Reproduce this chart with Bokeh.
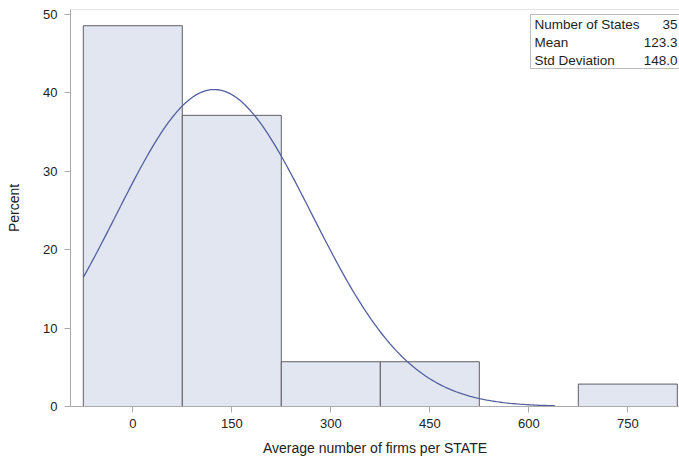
import math
from bokeh.plotting import figure
from bokeh.models import Range1d, FixedTicker, Span, ColumnDataSource
from bokeh.core.properties import value
from bokeh.embed import file_html
from bokeh.resources import INLINE

# ---- data ----
bin_midpoints = [0, 150, 300, 450, 600, 750]
bin_width = 150
percents = [48.57, 37.14, 5.71, 5.71, 0.0, 2.86]

n_states = 35
mean_val = 123.3
std_val = 148.0
curve_start = -75
curve_end = 640

x_ticks = [0, 150, 300, 450, 600, 750]
y_ticks = [0, 10, 20, 30, 40, 50]

inset_labels = ["Number of States", "Mean", "Std Deviation"]
inset_values = ["35", "123.3", "148.0"]

# ---- layout ----
FONT = "Liberation Sans"
FRAME_L, FRAME_T, FRAME_W, FRAME_H = 70, 9, 609, 397
X0, X1 = -94.4, 828.3
Y0, Y1 = 0, 50.64

p = figure(frame_width=FRAME_W, frame_height=FRAME_H,
           x_range=Range1d(X0, X1), y_range=Range1d(Y0, Y1),
           output_backend="svg", toolbar_location=None,
           min_border_left=FRAME_L, min_border_right=0,
           min_border_top=FRAME_T, min_border_bottom=0)
p.outline_line_color = None
p.grid.visible = False
p.background_fill_color = "white"
p.border_fill_color = "white"

# bars
left = [m - bin_width / 2 for m, v in zip(bin_midpoints, percents) if v > 0]
right = [m + bin_width / 2 for m, v in zip(bin_midpoints, percents) if v > 0]
top = [v for v in percents if v > 0]
p.quad(left=left, right=right, top=top, bottom=0,
       fill_color="#E2E6F0", line_color="#5E5E66", line_width=1)

# normal density curve (percent scale)
steps = 200
cx = [curve_start + (curve_end - curve_start) * i / steps for i in range(steps + 1)]
scale = 100.0 * bin_width / (std_val * math.sqrt(2 * math.pi))
cy = [scale * math.exp(-0.5 * ((x - mean_val) / std_val) ** 2) for x in cx]
p.line(cx, cy, line_color="#5360A0", line_width=1.3)

# top border of the plot wall
p.add_layout(Span(location=Y1, dimension="width", line_color="#C8C8C8", line_width=1))

# inset table (pixel-based placement converted to data units)
def px_to_x(px):
    return X0 + (px - FRAME_L) * (X1 - X0) / FRAME_W

def py_to_y(py):
    return Y0 + (FRAME_T + FRAME_H - py) * (Y1 - Y0) / FRAME_H

p.quad(left=[px_to_x(530)], right=[px_to_x(720)], top=[py_to_y(14)], bottom=[py_to_y(68)],
       fill_color="white", line_color="#BDBDBD", line_width=1)
rows_y = [py_to_y(24), py_to_y(42), py_to_y(59.5)]
src_l = ColumnDataSource(dict(x=[px_to_x(534)] * 3, y=rows_y, t=inset_labels))
src_v = ColumnDataSource(dict(x=[px_to_x(677)] * 3, y=rows_y, t=inset_values))
p.text(x="x", y="y", text="t", source=src_l, text_font=value(FONT),
       text_font_size="13.5px", text_baseline="middle", text_align="left", text_color="#1E1E1E")
p.text(x="x", y="y", text="t", source=src_v, text_font=value(FONT),
       text_font_size="13.5px", text_baseline="middle", text_align="right", text_color="#1E1E1E")

# axes
for ax in (p.xaxis[0], p.yaxis[0]):
    ax.axis_line_color = "#ABABAB"
    ax.major_tick_line_color = "#ABABAB"
    ax.major_tick_out = 6
    ax.major_tick_in = 0
    ax.minor_tick_line_color = None
    ax.major_label_text_font = FONT
    ax.major_label_text_font_size = "13px"
    ax.major_label_text_color = "#222222"
    ax.axis_label_text_font = FONT
    ax.axis_label_text_font_size = "14px"
    ax.axis_label_text_font_style = "normal"
    ax.axis_label_text_color = "#222222"

p.xaxis.ticker = FixedTicker(ticks=x_ticks)
p.yaxis.ticker = FixedTicker(ticks=y_ticks)
p.xaxis.axis_label = "Average number of firms per STATE"
p.yaxis.axis_label = "Percent"
p.xaxis.major_label_standoff = 6
p.xaxis.axis_label_standoff = 9
p.yaxis.major_label_standoff = 7
p.yaxis.axis_label_standoff = 18

open("out.html", "w").write(file_html(p, INLINE))
